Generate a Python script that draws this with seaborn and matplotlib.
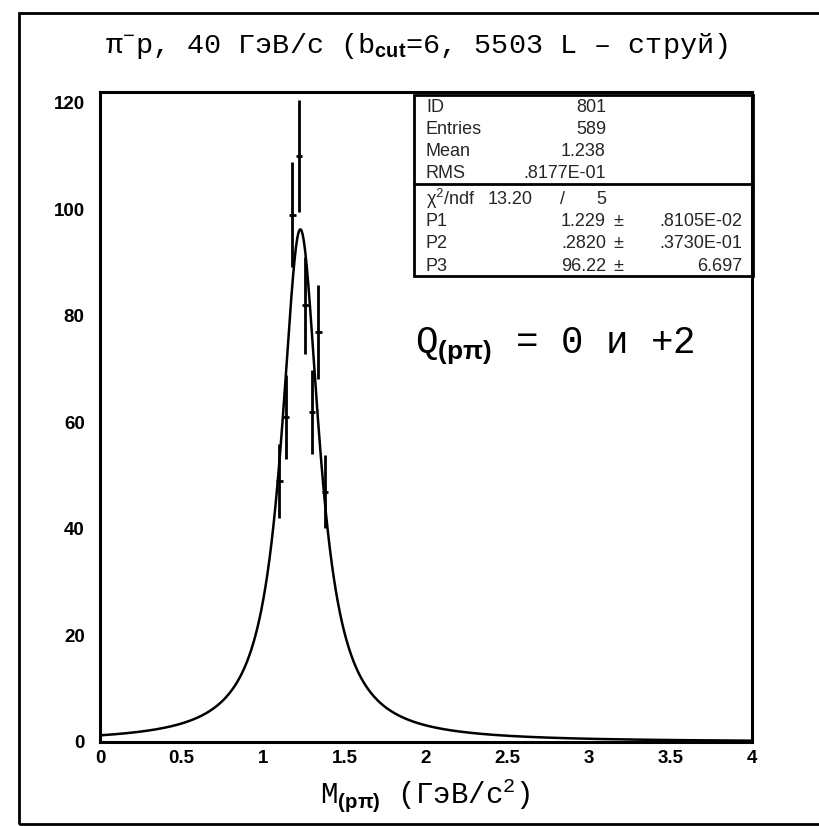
import numpy as np
import pandas as pd
import matplotlib
matplotlib.use("Agg")
import matplotlib.pyplot as plt
from matplotlib.patches import Rectangle
from matplotlib.ticker import MultipleLocator
import seaborn as sns

# ---------------- data ----------------
bin_centers = [1.10, 1.14, 1.18, 1.22, 1.26, 1.30, 1.34, 1.38]
counts = [49, 61, 99, 110, 82, 62, 77, 47]
count_errors = [7.0, 7.8, 9.9, 10.5, 9.1, 7.9, 8.8, 6.9]
bin_half_width = 0.02

fit_p1 = 1.229   # mass
fit_p2 = 0.282   # width
fit_p3 = 96.22   # height

stats_labels = ["ID", "Entries", "Mean", "RMS"]
stats_values = ["801", "589", "1.238", ".8177E-01"]
chi2_value = "13.20"
ndf_value = "5"
par_labels = ["P1", "P2", "P3"]
par_values = ["1.229", ".2820", "96.22"]
par_errors = [".8105E-02", ".3730E-01", "6.697"]

x_ticks = [0, 0.5, 1, 1.5, 2, 2.5, 3, 3.5, 4]
x_tick_labels = ["0", "0.5", "1", "1.5", "2", "2.5", "3", "3.5", "4"]
y_ticks = [0, 20, 40, 60, 80, 100, 120]

# ---------------- style ----------------
sns.set_theme(style="white")
plt.rcParams["font.family"] = ["Liberation Sans", "DejaVu Sans"]
plt.rcParams["mathtext.fontset"] = "custom"
plt.rcParams["mathtext.rm"] = "Liberation Mono"
plt.rcParams["mathtext.it"] = "Liberation Mono"
plt.rcParams["mathtext.bf"] = "Liberation Sans:bold"

W, H = 820, 826
fig = plt.figure(figsize=(W / 100, H / 100), dpi=100)
fig.patch.set_facecolor("white")

def fx(px):
    return px / W

def fy(py):
    return 1 - py / H

ax = fig.add_axes([fx(100), fy(742), fx(752) - fx(100), fy(92) - fy(742)])
ax.set_facecolor("white")

# fit curve (Breit-Wigner with the fitted parameters)
m = np.linspace(0, 4, 1601)
half = fit_p2 / 2
curve = pd.DataFrame({"m": m,
                      "f": fit_p3 * half ** 2 / ((m - fit_p1) ** 2 + half ** 2)})
sns.lineplot(data=curve, x="m", y="f", ax=ax, color="black", lw=1.8)

# data points
pts = pd.DataFrame({"x": bin_centers, "y": counts, "e": count_errors})
ax.errorbar(pts["x"], pts["y"], yerr=pts["e"], xerr=bin_half_width,
            fmt="none", ecolor="black", elinewidth=2.0, capsize=0)

ax.set_xlim(0, 4)
ax.set_ylim(0, 122)
ax.set_xlabel("")
ax.set_ylabel("")
ax.set_xticks(x_ticks)
ax.set_xticklabels(x_tick_labels)
ax.set_yticks(y_ticks)
ax.xaxis.set_minor_locator(MultipleLocator(0.1))
ax.yaxis.set_minor_locator(MultipleLocator(5))
ax.tick_params(axis="both", which="both", direction="in",
               top=False, right=False, color="black", width=1.5)
ax.tick_params(axis="x", which="major", length=8.5, pad=6, labelsize=13.5)
ax.tick_params(axis="x", which="minor", length=4.5)
ax.tick_params(axis="y", which="major", length=9.5, pad=11, labelsize=13.5)
ax.tick_params(axis="y", which="minor", length=5)
for lab in ax.get_xticklabels() + ax.get_yticklabels():
    lab.set_fontweight("bold")
    lab.set_color("black")
for sp in ax.spines.values():
    sp.set_visible(True)
    sp.set_color("black")
    sp.set_linewidth(2.2)

# title
fig.text(fx(416), fy(46),
         "π$^{-}$p, 40 ГэВ/с (b$_{\\mathbf{cut}}$=6, 5503 L – струй)",
         family=["Liberation Mono", "DejaVu Sans"], fontsize=20.5,
         ha="center", va="center", color="black")

# x-axis label
fig.text(fx(425), fy(795),
         "M$_{\\mathbf{(pπ)}}$ (ГэВ/с$^{2}$)",
         family=["Liberation Mono", "DejaVu Sans"], fontsize=21,
         ha="center", va="center", color="black")

# charge annotation
fig.text(fx(415), fy(346),
         "Q$_{\\mathbf{(pπ)}}$ = 0 и +2",
         family=["Liberation Mono", "DejaVu Sans"], fontsize=27,
         ha="left", va="center", color="black")

# stats box
box_l, box_r, box_t, box_div, box_b = 414, 753, 95, 184, 276
fig.patches.append(Rectangle((fx(box_l), fy(box_b)), fx(box_r) - fx(box_l),
                             fy(box_t) - fy(box_b), transform=fig.transFigure,
                             fill=False, edgecolor="black", lw=2.0))
fig.add_artist(plt.Line2D([fx(box_l), fx(box_r)], [fy(box_div), fy(box_div)],
                          transform=fig.transFigure, color="black", lw=2.0))

stat_fs = 13
base_top = [111.5, 134, 156.5, 178.5]
for lab, val, yb in zip(stats_labels, stats_values, base_top):
    fig.text(fx(426), fy(yb), lab, fontsize=stat_fs, ha="left", va="baseline")
    fig.text(fx(606), fy(yb), val, fontsize=stat_fs, ha="right", va="baseline")

fig.text(fx(426), fy(204), "χ$^{2}$/ndf", fontsize=stat_fs, ha="left",
         va="baseline", family=["Liberation Sans", "DejaVu Sans"])
fig.text(fx(533), fy(204), chi2_value, fontsize=stat_fs, ha="right", va="baseline")
fig.text(fx(562), fy(204), "/", fontsize=stat_fs, ha="center", va="baseline")
fig.text(fx(606), fy(204), ndf_value, fontsize=stat_fs, ha="right", va="baseline")

base_par = [226.5, 248.5, 271]
for lab, val, err, yb in zip(par_labels, par_values, par_errors, base_par):
    fig.text(fx(426), fy(yb), lab, fontsize=stat_fs, ha="left", va="baseline")
    fig.text(fx(606), fy(yb), val, fontsize=stat_fs, ha="right", va="baseline")
    fig.text(fx(618), fy(yb), "±", fontsize=stat_fs, ha="center", va="baseline")
    fig.text(fx(742), fy(yb), err, fontsize=stat_fs, ha="right", va="baseline")

# outer frame of the page (right side runs off the scan)
fig.patches.append(Rectangle((fx(19), fy(824)), fx(830) - fx(19),
                             fy(13) - fy(824), transform=fig.transFigure,
                             fill=False, edgecolor="black", lw=2.0))

fig.savefig("out.png", dpi=100, facecolor="white")
